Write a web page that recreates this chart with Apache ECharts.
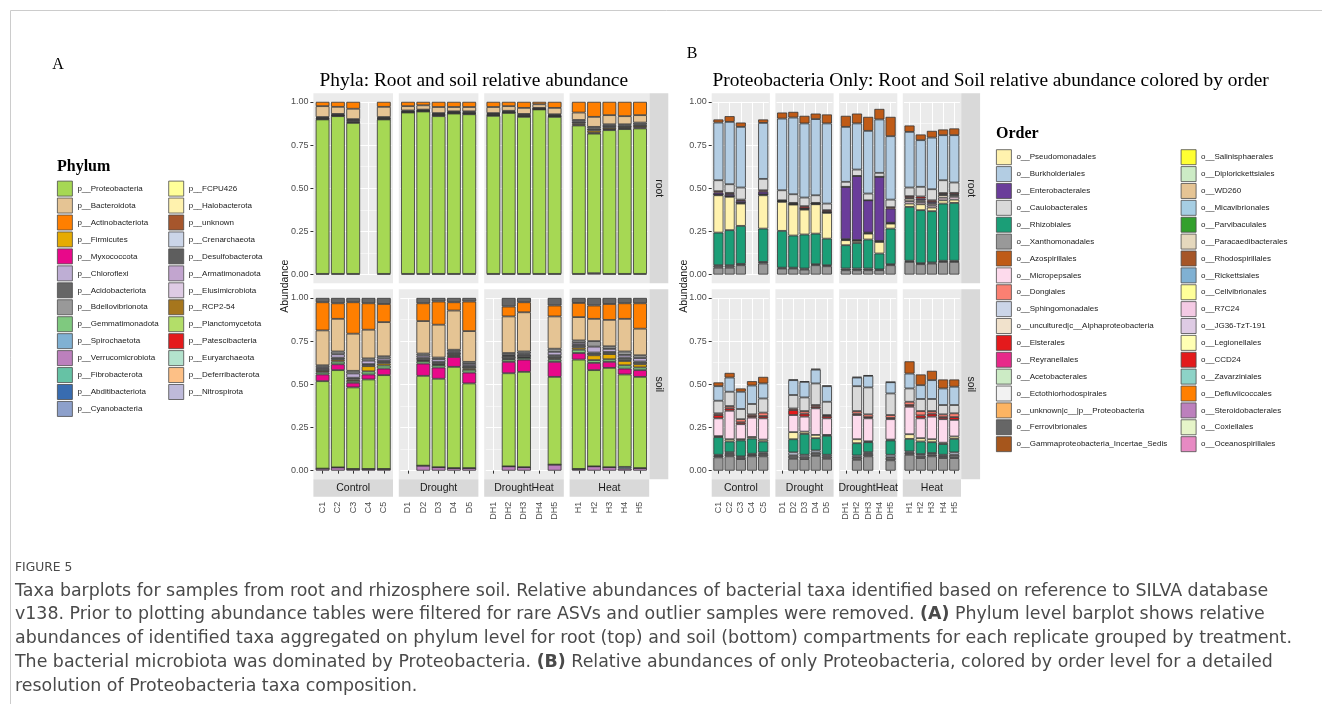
<!DOCTYPE html>
<html><head><meta charset="utf-8">
<script src="https://cdn.jsdelivr.net/npm/echarts@6/dist/echarts.min.js"></script>
<style>html,body{margin:0;padding:0;background:#fff}#chart{width:1322px;height:704px}</style>
</head><body><div id="chart"></div>
<script>
// ================= DATA =================
const treatments = ['Control', 'Drought', 'DroughtHeat', 'Heat'];
const compartments = ['root', 'soil'];
const samplesControl = ['C1', 'C2', 'C3', 'C4', 'C5'];
const samplesDrought = ['D1', 'D2', 'D3', 'D4', 'D5'];
const samplesDroughtHeat = ['DH1', 'DH2', 'DH3', 'DH4', 'DH5'];
const samplesHeat = ['H1', 'H2', 'H3', 'H4', 'H5'];
const yTickValues = [0, 0.25, 0.5, 0.75, 1];
const yTickLabels = ['0.00', '0.25', '0.50', '0.75', '1.00'];

const phylumLegend1 = ['p__Proteobacteria','p__Bacteroidota','p__Actinobacteriota','p__Firmicutes','p__Myxococcota','p__Chloroflexi','p__Acidobacteriota','p__Bdellovibrionota','p__Gemmatimonadota','p__Spirochaetota','p__Verrucomicrobiota','p__Fibrobacterota','p__Abditibacteriota','p__Cyanobacteria'];
const phylumColors1 = ['#A6D854','#E5C494','#FF7F00','#E6AB02','#E8088A','#BEAED4','#666666','#999999','#7FC97F','#80B1D3','#BC80BD','#66C2A5','#386CB0','#8DA0CB'];
const phylumLegend2 = ['p__FCPU426','p__Halobacterota','p__unknown','p__Crenarchaeota','p__Desulfobacterota','p__Armatimonadota','p__Elusimicrobiota','p__RCP2-54','p__Planctomycetota','p__Patescibacteria','p__Euryarchaeota','p__Deferribacterota','p__Nitrospirota'];
const phylumColors2 = ['#FFFF99','#FFF2AE','#A6562C','#CBD5E8','#5E5E5E','#C2A5CF','#DECBE4','#A6761D','#B3DE69','#E41A1C','#B3E2CD','#FDC086','#BEBADA'];

const orderLegend1 = ['o__Pseudomonadales','o__Burkholderiales','o__Enterobacterales','o__Caulobacterales','o__Rhizobiales','o__Xanthomonadales','o__Azospirillales','o__Micropepsales','o__Dongiales','o__Sphingomonadales','o__uncultured|c__Alphaproteobacteria','o__Elsterales','o__Reyranellales','o__Acetobacterales','o__Ectothiorhodospirales','o__unknown|c__|p__Proteobacteria','o__Ferrovibrionales','o__Gammaproteobacteria_Incertae_Sedis'];
const orderColors1 = ['#FFF2AE','#B3CDE3','#6A3D9A','#D9D9D9','#1B9E77','#999999','#BF5B17','#FDDAEC','#FB8072','#CBD5E8','#F1E2CC','#E41A1C','#E7298A','#CCEBC5','#F2F2F2','#FDB462','#666666','#A6561C'];
const orderLegend2 = ['o__Salinisphaerales','o__Diplorickettsiales','o__WD260','o__Micavibrionales','o__Parvibaculales','o__Paracaedibacterales','o__Rhodospirillales','o__Rickettsiales','o__Cellvibrionales','o__R7C24','o__JG36-TzT-191','o__Legionellales','o__CCD24','o__Zavarziniales','o__Defluviicoccales','o__Steroidobacterales','o__Coxiellales','o__Oceanospirillales'];
const orderColors2 = ['#FFFF33','#CCEBC5','#E5C494','#A6CEE3','#33A02C','#E5D8BD','#A65628','#80B1D3','#FFFF99','#F4CAE4','#DECBE4','#FFFFB3','#E31A1C','#8DD3C7','#FF7F00','#BC80BD','#E6F5C9','#E78AC3'];

// Sample order in every array: C1..C5, D1..D5, DH1..DH5, H1..H5 ; null = sample removed
// ---- Phylum, root ----
const rootVerrucomicrobiota = [0.004,0.004,0.004,null,0.004, 0.004,0.004,0.004,0.004,0.004, 0.004,0.004,0.004,0.004,0.004, 0.004,0.008,0.004,0.004,0.004];
const rootProteobacteria    = [0.894,0.913,0.874,null,0.894, 0.934,0.940,0.913,0.928,0.924, 0.915,0.932,0.909,0.952,0.909, 0.859,0.808,0.832,0.838,0.842];
const rootMyxococcota       = [0.003,0.003,0.004,null,0.003, 0.002,0.002,0.006,0.003,0.003, 0.003,0.002,0.004,0.002,0.003, 0.005,0.005,0.006,0.005,0.006];
const rootFirmicutes        = [0.002,0.002,0.004,null,0.002, 0.002,0.002,0.002,0.002,0.003, 0.003,0.002,0.003,0.001,0.002, 0.007,0.012,0.008,0.006,0.008];
const rootDesulfobacterota  = [0.005,0.004,0.008,null,0.005, 0.004,0.004,0.005,0.004,0.006, 0.005,0.004,0.005,0.003,0.005, 0.010,0.012,0.010,0.009,0.010];
const rootBdellovibrionota  = [0.004,0.004,0.006,null,0.004, 0.004,0.003,0.005,0.004,0.005, 0.005,0.004,0.005,0.003,0.005, 0.010,0.010,0.010,0.008,0.010];
const rootBacteroidota      = [0.063,0.041,0.060,null,0.059, 0.025,0.025,0.035,0.025,0.025, 0.035,0.027,0.035,0.021,0.037, 0.043,0.058,0.053,0.047,0.043];
const rootActinobacteriota  = [0.025,0.029,0.040,null,0.029, 0.025,0.020,0.030,0.030,0.030, 0.030,0.025,0.035,0.014,0.035, 0.062,0.087,0.077,0.083,0.077];
// ---- Phylum, soil ----
const soilVerrucomicrobiota = [0.012,0.019,0.010,0.010,0.010, null,0.029,0.020,0.015,0.015, null,0.025,0.020,null,0.035, 0.010,0.025,0.020,0.012,0.015];
const soilSpirochaetota     = [0,0,0,0,0, null,0,0,0,0, null,0,0,null,0, 0,0,0,0.010,0];
const soilProteobacteria    = [0.506,0.563,0.472,0.518,0.543, null,0.520,0.512,0.586,0.490, null,0.539,0.552,null,0.508, 0.633,0.557,0.575,0.535,0.528];
const soilMyxococcota       = [0.039,0.034,0.027,0.029,0.038, null,0.071,0.065,0.057,0.063, null,0.066,0.071,null,0.087, 0.038,0.042,0.035,0.034,0.039];
const soilGemmatimonadota   = [0.012,0.016,0.011,0.018,0.018, null,0.014,0.014,0.008,0.016, null,0.014,0.010,null,0.014, 0.019,0.016,0.015,0.019,0.016];
const soilFirmicutes        = [0.008,0.010,0.008,0.030,0.012, null,0.006,0.006,0.005,0.008, null,0.004,0.004,null,0.006, 0.012,0.028,0.030,0.025,0.018];
const soilDesulfobacterota  = [0.012,0.012,0.010,0.012,0.014, null,0.014,0.012,0.012,0.014, null,0.015,0.015,null,0.018, 0.016,0.016,0.012,0.020,0.016];
const soilChloroflexi       = [0.010,0.020,0.025,0.020,0.014, null,0.012,0.016,0.007,0.012, null,0.006,0.006,null,0.020, 0.012,0.034,0.018,0.015,0.020];
const soilBdellovibrionota  = [0.011,0.016,0.015,0.013,0.013, null,0.012,0.010,0.010,0.012, null,0.012,0.012,null,0.018, 0.014,0.032,0.015,0.020,0.016];
const soilBacteroidota      = [0.202,0.189,0.215,0.166,0.198, null,0.188,0.190,0.227,0.178, null,0.212,0.227,null,0.187, 0.135,0.129,0.153,0.189,0.154];
const soilActinobacteriota  = [0.163,0.090,0.182,0.153,0.105, null,0.103,0.134,0.048,0.171, null,0.057,0.058,null,0.063, 0.082,0.077,0.092,0.090,0.147];
const soilAcidobacteriota   = [0.025,0.031,0.025,0.031,0.035, null,0.031,0.021,0.025,0.021, null,0.050,0.025,null,0.044, 0.029,0.044,0.035,0.031,0.031];

// ---- Order (Proteobacteria only), root ----
const rootXanthomonadales   = [0.040,0.040,0.054,null,0.064, 0.035,0.035,0.029,0.054,0.048, 0.025,0.025,0.025,0.025,0.054, 0.073,0.060,0.064,0.073,0.073];
const rootFerrovibrionales  = [0.014,0.014,0.008,null,0.009, 0.005,0.005,0.006,0.006,0.006, 0.010,0.010,0.010,0.005,0.006, 0.007,0.006,0.006,0.007,0.007];
const rootRhizobiales       = [0.189,0.203,0.220,null,0.193, 0.213,0.186,0.197,0.177,0.154, 0.135,0.148,0.168,0.092,0.206, 0.312,0.307,0.297,0.331,0.335];
const rootPseudomonadales   = [0.216,0.193,0.129,null,0.193, 0.168,0.179,0.144,0.170,0.149, 0.029,0.012,0.034,0.067,0.029, 0.019,0.034,0.021,0.019,0.019];
const rootMicropepsales     = [0.004,0.004,0.004,null,0.005, 0.003,0.003,0.004,0.003,0.004, 0.003,0.003,0.003,0.003,0.003, 0.014,0.013,0.012,0.015,0.016];
const rootUnculturedAlpha   = [0,0,0,null,0, 0,0,0,0,0, 0.003,0.002,0.003,0.003,0.002, 0.015,0.010,0.010,0.015,0.010];
const rootEnterobacterales  = [0.012,0.012,0.012,null,0.016, 0.003,0.004,0.004,0.003,0.004, 0.303,0.371,0.187,0.371,0.082, 0.005,0.010,0.010,0.005,0.005];
const rootElsterales        = [0.008,0.007,0.007,null,0.008, 0.003,0.003,0.012,0.002,0.008, 0,0,0,0,0.008, 0.009,0.012,0.010,0.007,0.008];
const rootCaulobacterales   = [0.063,0.050,0.070,null,0.066, 0.058,0.050,0.050,0.044,0.038, 0.029,0.037,0.039,0.023,0.044, 0.050,0.056,0.064,0.074,0.060];
const rootBurkholderiales   = [0.334,0.361,0.351,null,0.324, 0.415,0.444,0.429,0.441,0.464, 0.318,0.267,0.363,0.309,0.367, 0.322,0.270,0.299,0.261,0.274];
const rootAzospirillales    = [0.018,0.033,0.025,null,0.020, 0.035,0.033,0.044,0.032,0.052, 0.064,0.057,0.081,0.061,0.112, 0.037,0.033,0.039,0.033,0.039];
// ---- Order (Proteobacteria only), soil ----
const soilXanthomonadales   = [0.077,0.083,0.067,0.083,0.083, null,0.069,0.067,0.086,0.069, null,0.063,0.083,null,0.060, 0.092,0.073,0.083,0.073,0.073];
const soilFerrovibrionales  = [0.009,0.014,0.010,0.009,0.014, null,0.020,0.015,0.018,0.014, null,0.015,0.014,null,0.018, 0.012,0.014,0.011,0.011,0.019];
const soilSphingomonadales  = [0.006,0.010,0.006,0.006,0.009, null,0.017,0.010,0.013,0.009, null,0.010,0.010,null,0.014, 0.007,0.009,0.008,0.008,0.014];
const soilRhizobiales       = [0.102,0.062,0.092,0.088,0.063, null,0.076,0.121,0.071,0.110, null,0.071,0.058,null,0.083, 0.073,0.073,0.063,0.062,0.078];
const soilPseudomonadales   = [0.006,0.013,0.007,0.009,0.011, null,0.041,0.013,0.019,0.005, null,0.023,0.005,null,0.005, 0.027,0.019,0.017,0.008,0.014];
const soilMicropepsales     = [0.103,0.165,0.087,0.112,0.123, null,0.099,0.087,0.154,0.096, null,0.140,0.133,null,0.118, 0.159,0.115,0.131,0.136,0.096];
const soilElsterales        = [0.019,0.014,0.011,0.009,0.013, null,0.029,0.017,0.009,0.013, null,0.008,0.007,null,0.007, 0.010,0.017,0.017,0.012,0.016];
const soilDongiales         = [0.010,0.013,0.018,0.010,0.020, null,0.009,0.015,0.010,0.006, null,0.015,0.016,null,0.017, 0.019,0.025,0.015,0.016,0.022];
const soilCaulobacterales   = [0.073,0.083,0.059,0.060,0.082, null,0.078,0.079,0.125,0.077, null,0.144,0.156,null,0.125, 0.077,0.070,0.070,0.054,0.048];
const soilBurkholderiales   = [0.084,0.082,0.100,0.107,0.087, null,0.086,0.090,0.080,0.090, null,0.050,0.067,null,0.065, 0.086,0.080,0.109,0.096,0.106];
const soilAzospirillales    = [0.022,0.027,0.019,0.025,0.038, null,0.004,0.004,0.005,0.004, null,0.004,0.004,null,0.002, 0.071,0.062,0.054,0.052,0.042];

// stacking order, bottom -> top : [legend name, root values, soil values]
const phylumStack = [
  ['p__Verrucomicrobiota', rootVerrucomicrobiota, soilVerrucomicrobiota],
  ['p__Spirochaetota', null, soilSpirochaetota],
  ['p__Proteobacteria', rootProteobacteria, soilProteobacteria],
  ['p__Myxococcota', rootMyxococcota, soilMyxococcota],
  ['p__Gemmatimonadota', null, soilGemmatimonadota],
  ['p__Firmicutes', rootFirmicutes, soilFirmicutes],
  ['p__Desulfobacterota', rootDesulfobacterota, soilDesulfobacterota],
  ['p__Chloroflexi', null, soilChloroflexi],
  ['p__Bdellovibrionota', rootBdellovibrionota, soilBdellovibrionota],
  ['p__Bacteroidota', rootBacteroidota, soilBacteroidota],
  ['p__Actinobacteriota', rootActinobacteriota, soilActinobacteriota],
  ['p__Acidobacteriota', null, soilAcidobacteriota]
];
const orderStack = [
  ['o__Xanthomonadales', rootXanthomonadales, soilXanthomonadales],
  ['o__Ferrovibrionales', rootFerrovibrionales, soilFerrovibrionales],
  ['o__Sphingomonadales', null, soilSphingomonadales],
  ['o__Rhizobiales', rootRhizobiales, soilRhizobiales],
  ['o__Pseudomonadales', rootPseudomonadales, soilPseudomonadales],
  ['o__Micropepsales', rootMicropepsales, soilMicropepsales],
  ['o__uncultured|c__Alphaproteobacteria', rootUnculturedAlpha, null],
  ['o__Enterobacterales', rootEnterobacterales, null],
  ['o__Elsterales', rootElsterales, soilElsterales],
  ['o__Dongiales', null, soilDongiales],
  ['o__Caulobacterales', rootCaulobacterales, soilCaulobacterales],
  ['o__Burkholderiales', rootBurkholderiales, soilBurkholderiales],
  ['o__Azospirillales', rootAzospirillales, soilAzospirillales]
];

const captionFigure = 'FIGURE 5';
const captionLines = [
  'Taxa barplots for samples from root and rhizosphere soil. Relative abundances of bacterial taxa identified based on reference to SILVA database',
  'v138. Prior to plotting abundance tables were filtered for rare ASVs and outlier samples were removed. {b|(A)} Phylum level barplot shows relative',
  'abundances of identified taxa aggregated on phylum level for root (top) and soil (bottom) compartments for each replicate grouped by treatment.',
  'The bacterial microbiota was dominated by Proteobacteria. {b|(B)} Relative abundances of only Proteobacteria, colored by order level for a detailed',
  'resolution of Proteobacteria taxa composition.'
];

// ================= LAYOUT =================
const sampleGroups = [samplesControl, samplesDrought, samplesDroughtHeat, samplesHeat];
function colorMap(n1, c1, n2, c2) { const m = {}; n1.forEach((n, i) => m[n] = c1[i]); n2.forEach((n, i) => m[n] = c2[i]); return m; }
const panels = [
  { facetX: [313.4, 398.8, 484.2, 569.6], facetW: 79.6, stripX: 649.4, stripW: 18.9,
    stack: phylumStack, names: phylumLegend1.concat(phylumLegend2), colorOf: colorMap(phylumLegend1, phylumColors1, phylumLegend2, phylumColors2) },
  { facetX: [711.7, 775.4, 839.1, 902.8], facetW: 58.2, stripX: 961.2, stripW: 18.9,
    stack: orderStack, names: orderLegend1.concat(orderLegend2), colorOf: colorMap(orderLegend1, orderColors1, orderLegend2, orderColors2) }
];
const rowTop = [93.2, 289.3];
const rowH = 190;
const stripY = 479.3, stripH = 17.4;
const SANS = 'Liberation Sans, Arial, sans-serif';
const SERIF = 'Liberation Serif, Times New Roman, serif';
const CAP = "'DejaVu Sans', sans-serif";

const option = {
  animation: false, backgroundColor: '#ffffff',
  grid: [], xAxis: [], yAxis: [], series: [], legend: [], graphic: { elements: [] }
};
const G = option.graphic.elements;
function rect(x, y, w, h, fill, z) { G.push({ type: 'rect', shape: { x, y, width: w, height: h }, style: { fill }, z, silent: true }); }
function txt(x, y, text, st, rot) {
  G.push({ type: 'text', x, y, rotation: rot || 0, z: 20, silent: true,
    style: Object.assign({ text, fill: '#1A1A1A', fontSize: 10.5, fontFamily: SANS, align: 'center', verticalAlign: 'middle' }, st || {}) });
}

panels.forEach((P, p) => {
  const inset = P.facetW * 0.1 / 5.2;
  [0, 1].forEach(r => {
    const top = rowTop[r] + rowH * 0.05 / 1.1;
    const h = rowH / 1.1;
    treatments.forEach((t, f) => {
      const g = p * 8 + r * 4 + f;
      rect(P.facetX[f], rowTop[r], P.facetW, rowH, '#EBEBEB', -10);
      option.grid.push({ left: P.facetX[f] + inset, top, width: P.facetW - 2 * inset, height: h, containLabel: false });
      option.xAxis.push({
        type: 'category', gridIndex: g, data: sampleGroups[f],
        axisLine: { show: false },
        axisTick: { show: r === 1, alignWithLabel: true, interval: 0, length: 3, lineStyle: { color: '#333333', width: 1 } },
        axisLabel: { show: r === 1, rotate: 90, interval: 0, fontSize: 9, color: '#4D4D4D', fontFamily: SANS, margin: 5 },
        offset: r === 1 ? (stripY + stripH) - (top + h) : 0,
        splitLine: { show: true, alignWithLabel: true, interval: 0, lineStyle: { color: '#FFFFFF', width: 1 } }
      });
      option.yAxis.push({
        type: 'value', gridIndex: g, min: yTickValues[0], max: yTickValues[yTickValues.length - 1], interval: 0.25,
        axisLine: { show: false },
        axisTick: { show: f === 0, length: 3, lineStyle: { color: '#333333', width: 1 } },
        axisLabel: { show: f === 0, fontSize: 9, color: '#4D4D4D', fontFamily: SANS, margin: 5,
          formatter: v => { const i = yTickValues.indexOf(v); return i >= 0 ? yTickLabels[i] : ''; } },
        offset: f === 0 ? inset : 0,
        splitLine: { show: true, lineStyle: { color: '#FFFFFF', width: 1 } },
        minorTick: { show: false, splitNumber: 2 },
        minorSplitLine: { show: true, lineStyle: { color: '#FFFFFF', width: 0.5 } }
      });
      P.stack.forEach(([name, rootArr, soilArr]) => {
        const arr = r === 0 ? rootArr : soilArr;
        if (!arr) return;
        option.series.push({
          type: 'bar', name, xAxisIndex: g, yAxisIndex: g, stack: 'st' + g, barWidth: '90%',
          data: arr.slice(f * 5, f * 5 + 5), silent: true,
          itemStyle: { color: P.colorOf[name], borderColor: '#333333', borderWidth: 0.8 }
        });
      });
      if (r === 1) {
        rect(P.facetX[f], stripY, P.facetW, stripH, '#D9D9D9', 1);
        txt(P.facetX[f] + P.facetW / 2, stripY + stripH / 2, t);
      }
    });
    rect(P.stripX, rowTop[r], P.stripW, rowH, '#D9D9D9', 1);
    txt(P.stripX + P.stripW / 2, rowTop[r] + rowH / 2, compartments[r], {}, -Math.PI / 2);
  });
  // legend-only taxa (present in legend, not visible in bars)
  P.names.forEach(name => {
    if (P.stack.some(s => s[0] === name)) return;
    option.series.push({ type: 'bar', name, xAxisIndex: p * 8, yAxisIndex: p * 8, stack: 'st' + (p * 8), data: [],
      itemStyle: { color: P.colorOf[name], borderColor: '#333333', borderWidth: 0.8 } });
  });
});

function legendCfg(names, left, top, gap) {
  return { data: names, orient: 'vertical', left, top, padding: 0, itemWidth: 15, itemHeight: 15, itemGap: gap,
    icon: 'rect', selectedMode: false,
    textStyle: { fontSize: 8, color: '#1A1A1A', fontFamily: SANS },
    itemStyle: { borderColor: '#4D4D4D', borderWidth: 0.8 } };
}
option.legend.push(legendCfg(phylumLegend1, 57, 180.7, 1.15));
option.legend.push(legendCfg(phylumLegend2, 168.3, 180.7, 1.15));
option.legend.push(legendCfg(orderLegend1, 996, 149.3, 1.08));
option.legend.push(legendCfg(orderLegend2, 1180.7, 149.3, 1.08));

// titles and labels
txt(319.5, 80.5, 'Phyla: Root and soil relative abundance', { fontFamily: SERIF, fontSize: 19.4, fill: '#000', align: 'left' });
txt(712.5, 80.5, 'Proteobacteria Only: Root and Soil relative abundance colored by order', { fontFamily: SERIF, fontSize: 19.4, fill: '#000', align: 'left' });
txt(58, 65, 'A', { fontFamily: SERIF, fontSize: 16, fill: '#000' });
txt(692, 54, 'B', { fontFamily: SERIF, fontSize: 16, fill: '#000' });
txt(285, 286.3, 'Abundance', { fontSize: 10.5 }, Math.PI / 2);
txt(684, 286.3, 'Abundance', { fontSize: 10.5 }, Math.PI / 2);
txt(57, 167, 'Phylum', { fontFamily: SERIF, fontSize: 16, fontWeight: 'bold', fill: '#000', align: 'left' });
txt(996, 134, 'Order', { fontFamily: SERIF, fontSize: 16, fontWeight: 'bold', fill: '#000', align: 'left' });

// frame
G.push({ type: 'line', shape: { x1: 10.5, y1: 10.5, x2: 1322, y2: 10.5 }, style: { stroke: '#CCCCCC', lineWidth: 1 }, silent: true });
G.push({ type: 'line', shape: { x1: 10.5, y1: 10.5, x2: 10.5, y2: 704 }, style: { stroke: '#CCCCCC', lineWidth: 1 }, silent: true });

// caption
txt(15, 568, captionFigure, { fontFamily: CAP, fontSize: 12.3, fill: '#4A4A4A', align: 'left' });
const capLineY = [591, 614.5, 638, 662, 686];
captionLines.forEach((line, i) => {
  txt(15, capLineY[i], line, { fontFamily: CAP, fontSize: 17.4, fill: '#4A4A4A', align: 'left',
    rich: { b: { fontFamily: CAP, fontSize: 17.4, fontWeight: 'bold', fill: '#4A4A4A' } } });
});

const chart = echarts.init(document.getElementById('chart'), null, { renderer: 'canvas', width: 1322, height: 704 });
chart.setOption(option);
</script>
</body></html>
